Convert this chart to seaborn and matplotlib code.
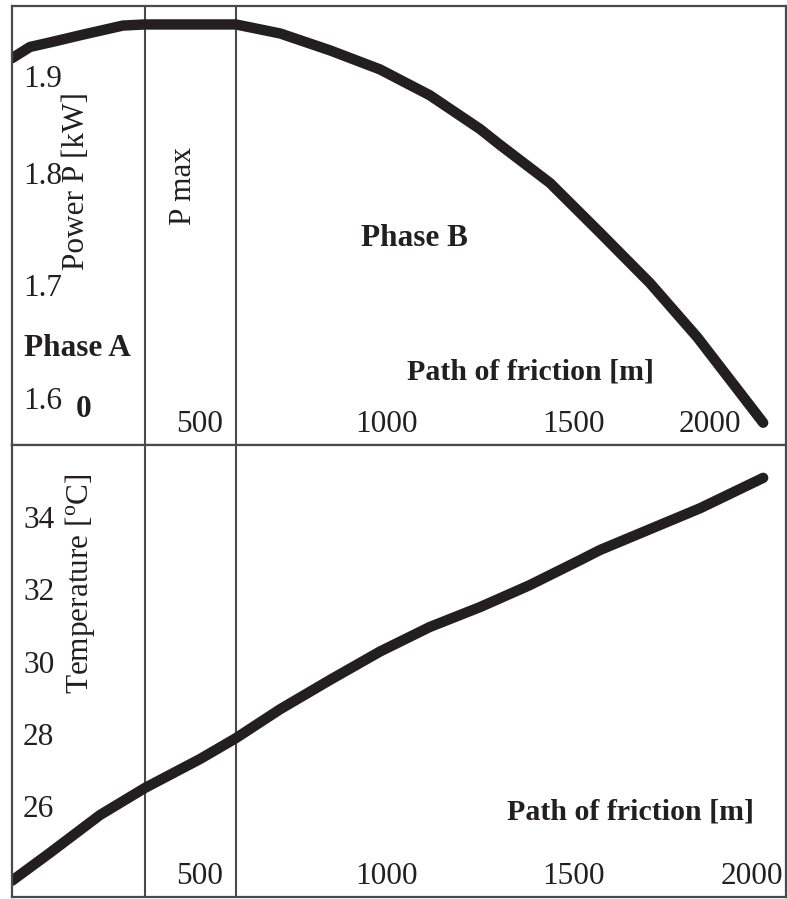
import matplotlib
matplotlib.use("Agg")
import matplotlib.pyplot as plt
import matplotlib.transforms as mtransforms
import seaborn as sns
import pandas as pd

# ---- data ----
path_power = [0, 48, 101, 190, 296, 355, 598, 716, 849, 983, 1116, 1250, 1303, 1437, 1570, 1704, 1830, 1918, 2006]
power_kw = [1.902, 1.912, 1.916, 1.923, 1.931, 1.932, 1.932, 1.924, 1.909, 1.892, 1.869, 1.839, 1.825, 1.791, 1.747, 1.702, 1.654, 1.616, 1.578]

path_temp = [0, 101, 235, 355, 502, 598, 716, 849, 983, 1116, 1250, 1383, 1517, 1570, 1838, 2006]
temperature_c = [23.93, 24.70, 25.75, 26.50, 27.30, 27.88, 28.68, 29.49, 30.28, 30.96, 31.51, 32.12, 32.81, 33.09, 34.25, 35.09]

phase_bounds = [355, 598]
x_ticks = [500, 1000, 1500, 2000]
power_ticks = [1.6, 1.7, 1.8, 1.9]
temp_ticks = [26, 28, 30, 32, 34]

df_p = pd.DataFrame({"path": path_power, "power": power_kw})
df_t = pd.DataFrame({"path": path_temp, "temp": temperature_c})

sns.set_theme(style="white")
plt.rcParams["font.family"] = ["Liberation Serif", "DejaVu Serif"]
plt.rcParams["mathtext.fontset"] = "custom"
plt.rcParams["mathtext.rm"] = "Liberation Serif"

INK = "#231f20"
FRAME = "#4a4a4a"
FS = 22.5

W, H = 787, 899
fig = plt.figure(figsize=(W / 100, H / 100), dpi=100)
left, right = 12 / W, 786 / W
ax1 = fig.add_axes([left, 1 - 445 / H, right - left, (445 - 6) / H])
ax2 = fig.add_axes([left, 2 / H, right - left, (897 - 445) / H])

sns.lineplot(data=df_p, x="path", y="power", ax=ax1, color=INK, linewidth=7.5,
             solid_capstyle="round", solid_joinstyle="round")
sns.lineplot(data=df_t, x="path", y="temp", ax=ax2, color=INK, linewidth=7.5,
             solid_capstyle="round", solid_joinstyle="round")


def shift(label, dx_px, dy_px):
    label.set_transform(label.get_transform() +
                        mtransforms.ScaledTranslation(dx_px / 100, dy_px / 100, fig.dpi_scale_trans))


for ax in (ax1, ax2):
    ax.set_xlim(0, 2067)
    ax.set_xlabel("")
    ax.set_ylabel("")
    for b in phase_bounds:
        ax.axvline(b, color=FRAME, linewidth=1.5, zorder=1)
    for s in ax.spines.values():
        s.set_color(FRAME)
        s.set_linewidth(1.6)
    ax.set_xticks(x_ticks)
    ax.set_xticklabels([str(v) for v in x_ticks])
    ax.tick_params(axis="both", direction="in", length=4, width=1.2, color=FRAME,
                   labelsize=FS, labelcolor=INK)
    ax.tick_params(axis="x", pad=-4)
    ax.tick_params(axis="y", pad=-8)
    for lab in ax.get_xticklabels():
        lab.set_verticalalignment("bottom")

ax1.set_ylim(1.5582, 1.9484)
ax1.set_yticks(power_ticks)
ax1.set_yticklabels([f"{v:.1f}" for v in power_ticks])
for lab in ax1.get_yticklabels():
    lab.set_horizontalalignment("left")
# the 1.9 label sits a little below its tick in the reference
shift(ax1.get_yticklabels()[-1], 0, -16)
shift(ax1.get_xticklabels()[-1], -51, 0)

ax2.set_ylim(23.479, 36.0)
ax2.set_yticks(temp_ticks)
ax2.set_yticklabels([str(v) for v in temp_ticks])
for lab in ax2.get_yticklabels():
    lab.set_horizontalalignment("left")
shift(ax2.get_xticklabels()[-1], -9, 0)

# annotations (top)
ax1.text(171, 1.793, "Power P [kW]", rotation=90, ha="center", va="center", fontsize=FS, color=INK)
ax1.text(457, 1.788, "P max", rotation=90, ha="center", va="center", fontsize=FS, color=INK)
ax1.text(1076, 1.742, "Phase B", ha="center", va="center", fontsize=FS, fontweight="bold", color=INK)
ax1.text(176, 1.644, "Phase A", ha="center", va="center", fontsize=FS, fontweight="bold", color=INK)
ax1.text(1386, 1.623, "Path of friction [m]", ha="center", va="center", fontsize=FS - 1, fontweight="bold", color=INK)
ax1.text(190, 1.590, "0", ha="center", va="center", fontsize=FS, fontweight="bold", color=INK)

# annotations (bottom)
ax2.text(182, 32.15, r"Temperature [$^{\mathrm{o}}$C]", rotation=90, ha="center", va="center", fontsize=FS, color=INK)
ax2.text(1653, 25.83, "Path of friction [m]", ha="center", va="center", fontsize=FS - 1, fontweight="bold", color=INK)

fig.savefig("out.png", dpi=100)
